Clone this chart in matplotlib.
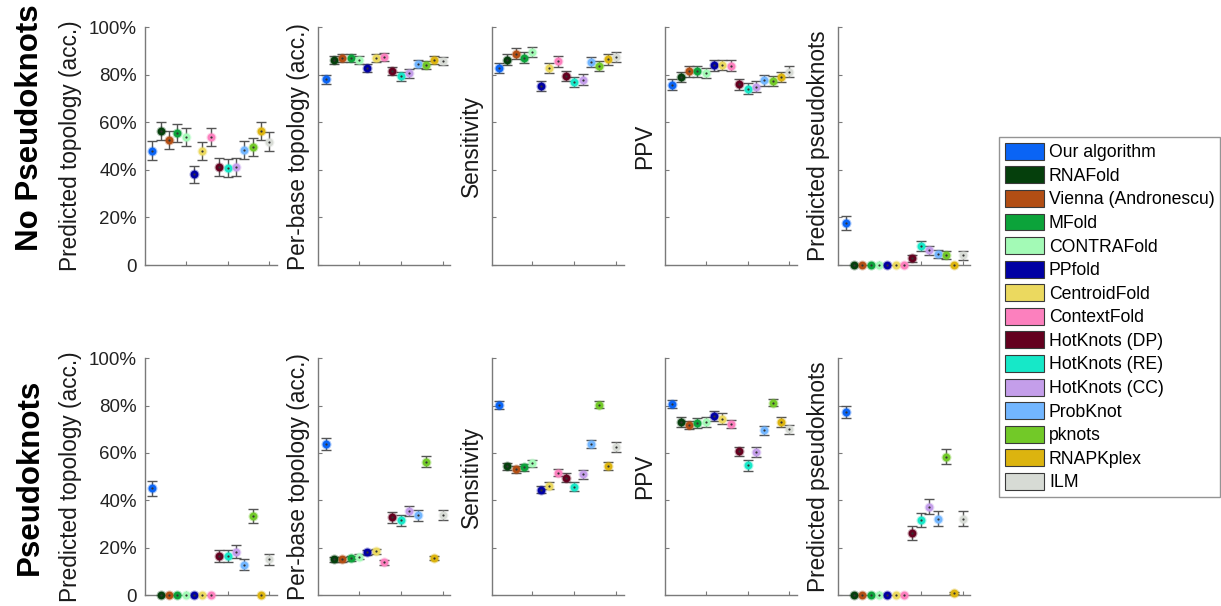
import matplotlib
matplotlib.use("Agg")
import matplotlib.pyplot as plt
from matplotlib.patches import Patch

plt.rcParams["font.family"] = ["Liberation Sans", "DejaVu Sans"]

METHODS = [
    "Our algorithm", "RNAFold", "Vienna (Andronescu)", "MFold", "CONTRAFold",
    "PPfold", "CentroidFold", "ContextFold", "HotKnots (DP)", "HotKnots (RE)",
    "HotKnots (CC)", "ProbKnot", "pknots", "RNAPKplex", "ILM",
]
COLORS = [
    "#0a64f5", "#053f0c", "#b24e14", "#0ca33a", "#a3fab6",
    "#0000a3", "#ebd95f", "#fc80be", "#64001f", "#16e8c8",
    "#c49eea", "#72b6ff", "#72c928", "#dcb40f", "#d7dbd5",
]
METRICS = [
    "Predicted topology (acc.)", "Per-base topology (acc.)", "Sensitivity",
    "PPV", "Predicted pseudoknots",
]
ROWS = ["No Pseudoknots", "Pseudoknots"]

# no pseudoknots: mean and error half-width per method
nopk_topo = [48.0, 56.4, 52.4, 55.7, 53.8, 38.1, 48.0, 53.8, 41.4, 40.8, 41.4, 48.4, 49.8, 56.4, 51.9]
nopk_topo_err = [4.0, 3.8, 3.8, 3.8, 3.8, 3.6, 3.8, 3.8, 3.8, 3.8, 3.8, 3.8, 3.8, 3.8, 4.0]
nopk_base = [78.1, 86.4, 87.0, 87.1, 86.2, 82.9, 87.0, 87.5, 81.8, 79.4, 80.6, 84.6, 84.0, 86.4, 85.7]
nopk_base_err = [1.9, 1.7, 1.7, 1.7, 1.7, 1.7, 1.7, 1.7, 1.7, 1.8, 1.8, 1.7, 1.7, 1.7, 1.7]
nopk_sens = [82.9, 86.4, 88.9, 87.2, 89.7, 75.3, 82.9, 85.7, 79.4, 76.9, 78.0, 85.4, 83.7, 86.5, 87.6]
nopk_sens_err = [2.2, 2.2, 2.2, 2.2, 2.2, 2.2, 2.2, 2.2, 2.2, 2.2, 2.2, 2.2, 2.2, 2.2, 2.2]
nopk_ppv = [75.9, 79.1, 81.5, 81.5, 80.8, 84.0, 84.2, 83.9, 76.0, 74.2, 75.0, 77.7, 77.4, 79.1, 81.3]
nopk_ppv_err = [2.2, 2.2, 2.2, 2.2, 2.2, 2.2, 2.2, 2.2, 2.2, 2.4, 2.2, 2.2, 2.2, 2.2, 2.3]
nopk_pk = [17.8, 0, 0, 0, 0, 0, 0, 0, 2.8, 8.0, 6.2, 4.6, 4.1, 0, 4.1]
nopk_pk_err = [3.0, 0, 0, 0, 0, 0, 0, 0, 1.4, 2.3, 2.0, 1.8, 1.7, 0, 1.8]

# pseudoknots
pk_topo = [45.1, 0, 0, 0, 0, 0, 0, 0, 16.5, 16.5, 18.3, 12.7, 33.5, 0, 15.1]
pk_topo_err = [3.2, 0, 0, 0, 0, 0, 0, 0, 2.4, 2.4, 2.7, 2.3, 3.0, 0, 2.4]
pk_base = [63.8, 15.1, 15.1, 15.5, 16.2, 18.0, 18.4, 13.8, 32.8, 31.5, 35.5, 33.7, 56.3, 15.6, 33.8]
pk_base_err = [2.4, 1.0, 1.0, 1.0, 1.0, 1.0, 1.0, 1.0, 2.3, 2.3, 2.3, 2.3, 2.3, 1.0, 2.3]
pk_sens = [80.3, 54.4, 53.1, 54.0, 55.6, 44.5, 46.1, 51.7, 49.6, 45.8, 51.0, 63.7, 80.4, 54.5, 62.5]
pk_sens_err = [1.7, 1.5, 1.5, 1.5, 1.5, 1.5, 1.5, 1.5, 1.8, 1.8, 2.0, 1.8, 1.5, 1.5, 2.0]
pk_ppv = [80.7, 73.0, 71.8, 72.7, 73.0, 75.6, 74.5, 72.2, 60.7, 54.8, 60.4, 69.6, 81.3, 73.0, 70.0]
pk_ppv_err = [1.7, 2.0, 1.8, 2.0, 2.0, 2.2, 2.2, 1.8, 2.0, 2.3, 2.0, 2.0, 1.5, 2.0, 2.0]
pk_pk = [77.3, 0, 0, 0, 0, 0, 0, 0, 26.2, 31.7, 37.3, 32.3, 58.4, 0.8, 32.3]
pk_pk_err = [2.7, 0, 0, 0, 0, 0, 0, 0, 2.8, 3.1, 3.1, 3.1, 3.2, 0.5, 3.1]

DATA = [
    [(nopk_topo, nopk_topo_err), (nopk_base, nopk_base_err), (nopk_sens, nopk_sens_err),
     (nopk_ppv, nopk_ppv_err), (nopk_pk, nopk_pk_err)],
    [(pk_topo, pk_topo_err), (pk_base, pk_base_err), (pk_sens, pk_sens_err),
     (pk_ppv, pk_ppv_err), (pk_pk, pk_pk_err)],
]

W, H = 1221, 606
fig = plt.figure(figsize=(W / 100, H / 100), dpi=100)

LEFTS = [145, 318.3, 491.7, 665, 838.3]
AX_W = 132
ROW_Y = [(27.3, 265), (358.3, 595)]
ROW_LABEL_Y = [128, 477]
AXIS_GRAY = "#7a7a7a"
xs = list(range(1, len(METHODS) + 1))

for r, (top, bottom) in enumerate(ROW_Y):
    for c, left in enumerate(LEFTS):
        ax = fig.add_axes([left / W, 1 - bottom / H, AX_W / W, (bottom - top) / H])
        vals, errs = DATA[r][c]
        for x, v, e, col in zip(xs, vals, errs, COLORS):
            if e > 0:
                ax.errorbar([x], [v], yerr=[e], fmt="none", ecolor="#555555",
                            elinewidth=1, capsize=3.3, capthick=1, zorder=2,
                            clip_on=False)
            ax.plot([x], [v], "o", ms=7.2, color=col, alpha=0.35, mew=0,
                    zorder=3, clip_on=False)
            ax.plot([x], [v], "o", ms=5.6, color=col, mew=0, zorder=4,
                    clip_on=False)
            ax.plot([x], [v], "o", ms=1.6, color="#333333", mew=0, zorder=5,
                    clip_on=False)

        ax.set_xlim(0.12, 15.92)
        ax.set_ylim(0, 100)
        ax.set_xticks([5, 10, 15])
        ax.set_xticklabels([])
        ax.set_yticks([0, 20, 40, 60, 80, 100])
        if c == 0:
            ax.set_yticklabels(["0", "20%", "40%", "60%", "80%", "100%"])
        else:
            ax.set_yticklabels([])
        ax.tick_params(direction="in", length=3, width=0.8, color=AXIS_GRAY,
                       labelsize=13.5, labelcolor="#222222", pad=6)
        for side in ["top", "right"]:
            ax.spines[side].set_visible(False)
        for side in ["left", "bottom"]:
            ax.spines[side].set_color(AXIS_GRAY)
            ax.spines[side].set_linewidth(1)
        ax.set_ylabel(METRICS[c], fontsize=16.3, color="#1a1a1a")
        ax.yaxis.label.set_va("center")
        lx = (70 - left) / AX_W if c == 0 else -20 / AX_W
        ax.yaxis.set_label_coords(lx, 0.5)

for name, yc in zip(ROWS, ROW_LABEL_Y):
    fig.text(30 / W, 1 - yc / H, name, rotation=90, ha="center", va="center",
             fontsize=22.5, fontweight="bold")

handles = [Patch(facecolor=col, edgecolor="#3a3a3a", linewidth=0.8, label=m)
           for m, col in zip(METHODS, COLORS)]
leg = fig.legend(handles=handles, loc="upper left",
                 bbox_to_anchor=(999 / W, 1 - 137 / H), borderaxespad=0,
                 fontsize=12.7, frameon=True, fancybox=False,
                 handlelength=2.2, handleheight=1.1, labelspacing=0.29,
                 handletextpad=0.3, borderpad=0.33)
leg.get_frame().set_edgecolor(AXIS_GRAY)
leg.get_frame().set_linewidth(1)

fig.savefig("out.png", dpi=100)
